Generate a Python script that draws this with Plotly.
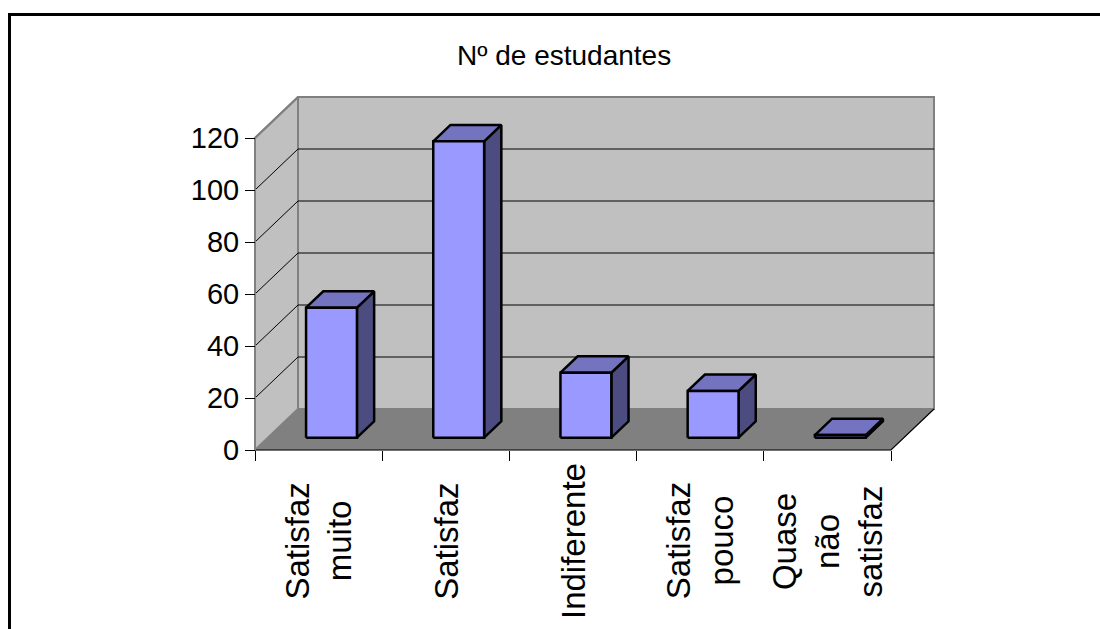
import plotly.graph_objects as go

# Survey results: number of students per satisfaction level
categories = ["Satisfaz<br>muito", "Satisfaz", "Indiferente", "Satisfaz<br>pouco", "Quase<br>não<br>satisfaz"]
students = [50, 114, 25, 18, 1]
y_ticks = [0, 20, 40, 60, 80, 100, 120]
title_text = "Nº de estudantes"

W, H = 1100, 629
# oblique projection of the 3-D box: pixels per category / per unit
PX_CAT, PX_UNIT = 127.2, 2.6
ORIGIN_X, ORIGIN_Y = 255, 450          # front-left-bottom corner in pixels
DEPTH_DX, DEPTH_DY = 43 / PX_CAT, 41 / PX_UNIT   # full depth in data units
Y_MAX = y_ticks[-1]
N = len(categories)
BAR_W = 0.4
D0, D1 = 0.3, 0.7                       # bar depth span (fraction of floor depth)

FONT = "Arial, Liberation Sans, sans-serif"
FRONT, TOP, SIDE = "#9999FF", "#7373BF", "#4C4C80"
WALL, FLOOR, EDGE = "#C0C0C0", "#808080", "#808080"


def off(x, y, d):
    return x + d * DEPTH_DX, y + d * DEPTH_DY


def poly(pts, fill, line_color, line_width):
    xs = [p[0] for p in pts] + [pts[0][0]]
    ys = [p[1] for p in pts] + [pts[0][1]]
    return go.Scatter(x=xs, y=ys, mode="lines", fill="toself", fillcolor=fill,
                      line=dict(color=line_color, width=line_width),
                      hoverinfo="skip", showlegend=False)


fig = go.Figure()

# back wall
bw = [off(0, 0, 1), off(N, 0, 1), off(N, Y_MAX, 1), off(0, Y_MAX, 1)]
fig.add_trace(poly(bw, WALL, EDGE, 2))
# side wall
sw = [(0, 0), (0, Y_MAX), off(0, Y_MAX, 1), off(0, 0, 1)]
fig.add_trace(poly(sw, WALL, EDGE, 2))
# floor
fl = [(0, 0), (N, 0), off(N, 0, 1), off(0, 0, 1)]
fig.add_trace(poly(fl, FLOOR, FLOOR, 0.5))

# floor front and right edges
fx, fy = [0, N, off(N, 0, 1)[0]], [0, 0, off(N, 0, 1)[1]]
fig.add_trace(go.Scatter(x=fx, y=fy, mode="lines", line=dict(color="black", width=1.2),
                         hoverinfo="skip", showlegend=False))

# gridlines on back and side walls
gx, gy = [], []
for t in y_ticks[1:-1]:
    a, b, c = (0, t), off(0, t, 1), off(N, t, 1)
    gx += [a[0], b[0], c[0], None]
    gy += [a[1], b[1], c[1], None]
fig.add_trace(go.Scatter(x=gx, y=gy, mode="lines", line=dict(color="black", width=1),
                         hoverinfo="skip", showlegend=False))

# top edge of side wall and front value axis line
fig.add_trace(go.Scatter(x=[0, off(0, Y_MAX, 1)[0]], y=[Y_MAX, off(0, Y_MAX, 1)[1]],
                         mode="lines", line=dict(color=EDGE, width=2),
                         hoverinfo="skip", showlegend=False))
fig.add_trace(go.Scatter(x=[0, 0], y=[0, Y_MAX], mode="lines",
                         line=dict(color=EDGE, width=2), hoverinfo="skip", showlegend=False))

# 3-D bars
for i, v in enumerate(students):
    xl = i + 0.5 - BAR_W / 2
    xr = i + 0.5 + BAR_W / 2
    fl_b, fl_t = off(xl, 0, D0), off(xl, v, D0)
    fr_b, fr_t = off(xr, 0, D0), off(xr, v, D0)
    bl_t = off(xl, v, D1)
    br_t, br_b = off(xr, v, D1), off(xr, 0, D1)
    fig.add_trace(poly([fr_b, fr_t, br_t, br_b], SIDE, "black", 2.5))
    fig.add_trace(poly([fl_t, fr_t, br_t, bl_t], TOP, "black", 2.5))
    fig.add_trace(poly([fl_b, fr_b, fr_t, fl_t], FRONT, "black", 2.5))

# category labels, rotated and centred under each category
for i, c in enumerate(categories):
    fig.add_annotation(x=i + 0.5, xref="x", y=1 - 541 / H, yref="paper",
                       text=c, textangle=-90, showarrow=False,
                       xanchor="center", yanchor="middle",
                       font=dict(family=FONT, size=33, color="black"))

fig.add_annotation(x=564 / W, y=1 - 56 / H, xref="paper", yref="paper",
                   text=title_text, showarrow=False, xanchor="center", yanchor="middle",
                   font=dict(family=FONT, size=28, color="black"))

# outer frame
fig.add_shape(type="rect", xref="paper", yref="paper",
              x0=9.5 / W, x1=1.05, y0=-0.05, y1=1 - 14.5 / H,
              line=dict(color="black", width=3), fillcolor="rgba(0,0,0,0)")

fig.update_layout(
    width=W, height=629, margin=dict(l=0, r=0, t=0, b=0),
    paper_bgcolor="white", plot_bgcolor="white", showlegend=False,
    xaxis=dict(range=[-ORIGIN_X / PX_CAT, (W - ORIGIN_X) / PX_CAT],
               showgrid=False, zeroline=False, showline=False,
               tickmode="array", tickvals=list(range(N + 1)), ticks="outside",
               ticklen=10, tickcolor="black", tickwidth=1, showticklabels=False,
               anchor="free", position=(H - ORIGIN_Y) / H, fixedrange=True),
    yaxis=dict(range=[-(H - ORIGIN_Y) / PX_UNIT, ORIGIN_Y / PX_UNIT],
               showgrid=False, zeroline=False, showline=False,
               tickmode="array", tickvals=y_ticks, ticks="outside",
               ticklen=10, tickcolor="black", tickwidth=1,
               tickfont=dict(family=FONT, size=29, color="black"),
               anchor="free", position=ORIGIN_X / W, fixedrange=True),
)

fig.write_html("out.html", config={"displayModeBar": False})
